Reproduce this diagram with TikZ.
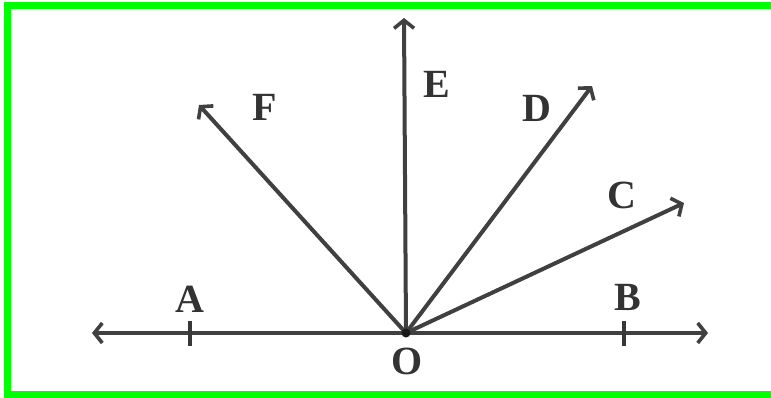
\documentclass[tikz,border=0pt]{standalone}
\usepackage{fontspec}
\setmainfont{Liberation Serif}
\usetikzlibrary{arrows.meta}
\begin{document}
\begin{tikzpicture}[x=1pt,y=-1pt,
  ray/.style={draw=black!75, line width=4pt, -{Straight Barb[length=8pt,width=20pt,line width=3.6pt]}},
  lbl/.style={inner sep=0pt, font=\fontsize{40}{40}\selectfont\bfseries, text=black!80},
  tick/.style={draw=black!78, line width=4.5pt}]
\useasboundingbox (0,0) rectangle (771,397);
\fill[white] (0,0) rectangle (771,397);
\draw[draw={rgb,255:red,0;green,255;blue,0}, line width=7pt] (790,5.5) -- (7.5,5.5) -- (7.5,394.5) -- (790,394.5);
% points
\coordinate (O) at (406,333);
\coordinate (Lt) at (92,333);
\coordinate (Rt) at (708,333);
\coordinate (Et) at (404,18);
\coordinate (Ft) at (199,105);
\coordinate (Dt) at (592,86);
\coordinate (Ct) at (684,203);
\coordinate (Ata) at (190,321);
\coordinate (Atb) at (190,346);
\coordinate (Bta) at (624,321);
\coordinate (Btb) at (624,346);
% rays
\draw[ray] (O) -- (Lt);
\draw[ray] (O) -- (Rt);
\draw[ray] (O) -- (Et);
\draw[ray] (O) -- (Ft);
\draw[ray] (O) -- (Dt);
\draw[ray] (O) -- (Ct);
\draw[tick] (Ata) -- (Atb);
\draw[tick] (Bta) -- (Btb);
\fill[black!90] (O) circle (4.5pt);
% labels
\node[lbl] (A) at (190,299) {A};
\node[lbl] (B) at (628,297) {B};
\node[lbl] (C) at (622,195) {C};
\node[lbl] (D) at (537,108) {D};
\node[lbl] (E) at (437,84) {E};
\node[lbl] (F) at (265,107) {F};
\node[lbl] (Olbl) at (407,361) {O};
\end{tikzpicture}
\end{document}
